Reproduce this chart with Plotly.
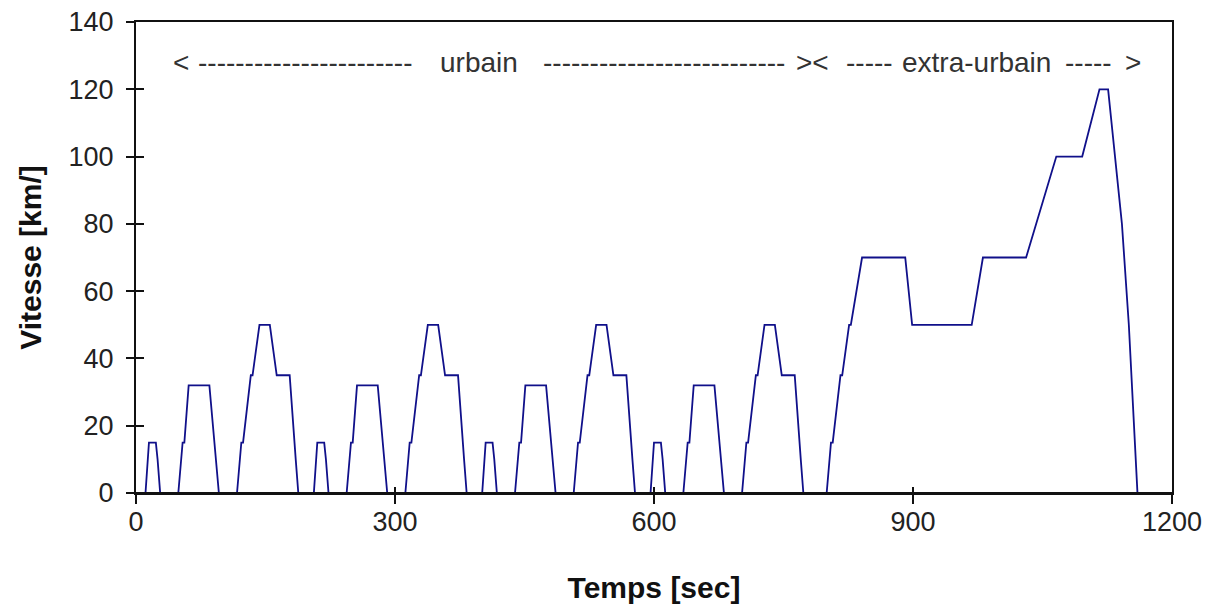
import plotly.graph_objects as go

# NEDC cycle: time [s] and speed [km/h] breakpoints
time_s = [
    0, 11, 15, 23, 25, 28, 49, 54, 56, 61, 85, 93, 96, 117, 122, 124, 133, 135, 143, 155, 163, 176, 178, 185, 188, 195,
    206, 210, 218, 220, 223, 244, 249, 251, 256, 280, 288, 291, 312, 317, 319, 328, 330, 338, 350, 358, 371, 373, 380, 383, 390,
    401, 405, 413, 415, 418, 439, 444, 446, 451, 475, 483, 486, 507, 512, 514, 523, 525, 533, 545, 553, 566, 568, 575, 578, 585,
    596, 600, 608, 610, 613, 634, 639, 641, 646, 670, 678, 681, 702, 707, 709, 718, 720, 728, 740, 748, 761, 763, 770, 773, 780,
    800, 805, 807, 816, 818, 826, 828, 841, 891, 899, 968, 981, 1031, 1066, 1096, 1116, 1126, 1142, 1150, 1160, 1180,
]
speed_kmh = [
    0, 0, 15, 15, 10, 0, 0, 15, 15, 32, 32, 10, 0, 0, 15, 15, 35, 35, 50, 50, 35, 35, 35, 10, 0, 0,
    0, 15, 15, 10, 0, 0, 15, 15, 32, 32, 10, 0, 0, 15, 15, 35, 35, 50, 50, 35, 35, 35, 10, 0, 0,
    0, 15, 15, 10, 0, 0, 15, 15, 32, 32, 10, 0, 0, 15, 15, 35, 35, 50, 50, 35, 35, 35, 10, 0, 0,
    0, 15, 15, 10, 0, 0, 15, 15, 32, 32, 10, 0, 0, 15, 15, 35, 35, 50, 50, 35, 35, 35, 10, 0, 0,
    0, 15, 15, 35, 35, 50, 50, 70, 70, 50, 50, 70, 70, 100, 100, 120, 120, 80, 50, 0, 0,
]

x_ticks = [0, 300, 600, 900, 1200]
y_ticks = [0, 20, 40, 60, 80, 100, 120, 140]

x_title = "Temps [sec]"
y_title = "Vitesse [km/]"
# phase banner pieces and their left edges (fraction of plot width)
phase_texts = ["<", "-" * 23, "urbain", "-" * 26, "><", "-" * 5, "extra-urbain", "-" * 5, ">"]
phase_left = [0.0335, 0.0575, 0.2915, 0.3913, 0.6350, 0.6830, 0.7370, 0.8950, 0.9530]

FONT = "Arial, Liberation Sans, sans-serif"

fig = go.Figure()
fig.add_trace(go.Scatter(
    x=time_s, y=speed_kmh, mode="lines",
    line=dict(color="#10108a", width=1.8),
    showlegend=False, hoverinfo="skip",
))
fig.add_trace(go.Scatter(x=[], y=[], xaxis="x2", yaxis="y2",
                         showlegend=False, hoverinfo="skip"))

fig.update_layout(
    width=1207, height=607,
    paper_bgcolor="white", plot_bgcolor="white",
    margin=dict(l=136, r=35, t=22, b=114, autoexpand=False),
    font=dict(family=FONT, size=27, color="#222"),
    xaxis=dict(
        range=[0, 1200], tickvals=x_ticks, ticktext=[str(v) for v in x_ticks],
        ticks="outside", ticklen=9, tickwidth=2, tickcolor="#111",
        showline=True, linecolor="#111", linewidth=2, mirror=True,
        showgrid=False, zeroline=False, ticklabelstandoff=-5,
        layer="above traces", automargin=False,
        tickfont=dict(size=27, color="#222"),
        title=dict(text=x_title, font=dict(size=30, weight="bold", color="#111"),
                   standoff=41),
    ),
    yaxis=dict(
        range=[0, 140], tickvals=y_ticks, ticktext=[str(v) for v in y_ticks],
        ticks="outside", ticklen=8, tickwidth=2, tickcolor="#111",
        showline=True, linecolor="#111", linewidth=2, mirror=True,
        showgrid=False, zeroline=False, ticklabelstandoff=7,
        layer="above traces", automargin=False,
        tickfont=dict(size=27, color="#222"),
        title=dict(text=y_title, font=dict(size=30, weight="bold", color="#111"),
                   standoff=18),
    ),
    xaxis2=dict(
        overlaying="x", anchor="y", side="bottom",
        range=[0, 1200], tickvals=x_ticks, showticklabels=False,
        ticks="inside", ticklen=6, tickwidth=2, tickcolor="#111",
        showline=False, showgrid=False, zeroline=False, automargin=False,
    ),
    yaxis2=dict(
        overlaying="y", anchor="x", side="left",
        range=[0, 140], tickvals=y_ticks, showticklabels=False,
        ticks="inside", ticklen=8, tickwidth=2, tickcolor="#111",
        showline=False, showgrid=False, zeroline=False, automargin=False,
    ),
    # baseline drawn above the trace so idle (0 km/h) stretches sit under the axis
    shapes=[dict(type="line", xref="paper", yref="y", x0=0, x1=1, y0=0, y1=0,
                 layer="above", line=dict(color="#111", width=2))],
    annotations=[dict(
        text=t, xref="paper", yref="paper", x=xl, y=0.913,
        xanchor="left", yanchor="middle", showarrow=False,
        font=dict(size=28, color="#333", family=FONT),
    ) for t, xl in zip(phase_texts, phase_left)],
)

# remove the default 8 px page margin so the figure fills the window exactly
fig.write_html(
    "out.html",
    config={"displayModeBar": False},
    post_script="document.body.style.margin='0';document.body.style.overflow='hidden';",
)
